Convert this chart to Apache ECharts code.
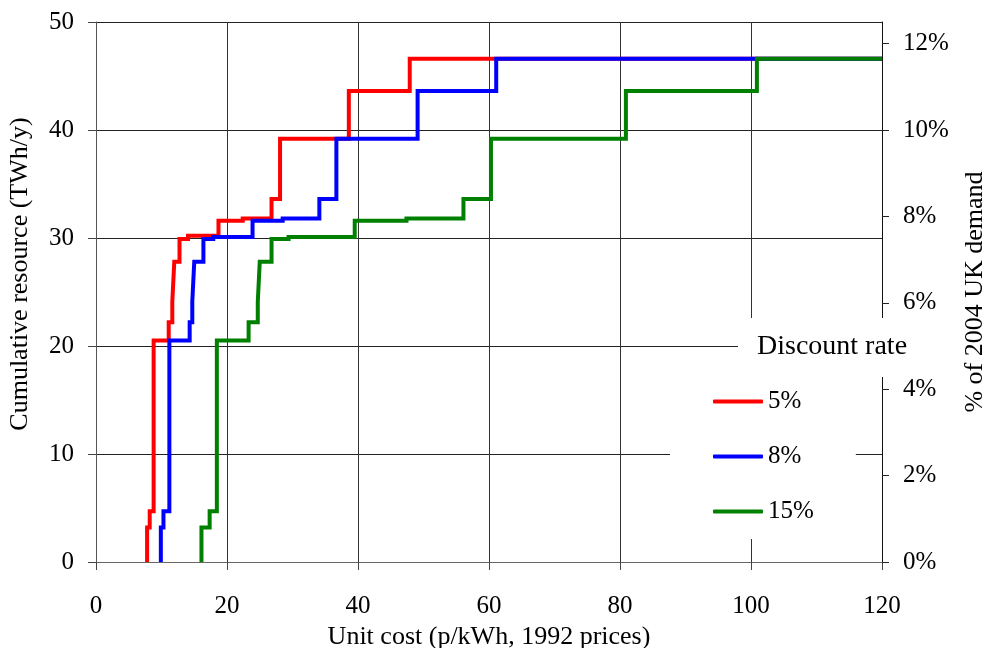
<!DOCTYPE html>
<html>
<head>
<meta charset="utf-8">
<script src="https://cdn.jsdelivr.net/npm/echarts@6/dist/echarts.min.js"></script>
<style>html,body{margin:0;padding:0;background:#fff}#c{width:990px;height:648px}</style>
</head>
<body>
<div id="c"></div>
<script>
// Step curves: at cost[i] the cumulative resource rises to level[i]
const seriesNames = ['5%', '8%', '15%'];
const cost5 = [7.8, 8.2, 8.8, 11.1, 11.65, 11.95, 12.75, 14.05, 18.7, 22.4, 26.8, 28.1, 38.6, 47.9];
const cost8 = [9.9, 10.3, 11.2, 14.3, 14.7, 15.0, 16.4, 17.9, 23.9, 28.5, 34.1, 36.7, 49.1, 61.1];
const cost15 = [16.1, 17.35, 18.45, 23.3, 24.7, 25.0, 26.8, 29.4, 39.5, 47.4, 56.1, 60.3, 80.9, 100.9];
const level5 = [3.2, 4.7, 20.5, 22.2, 24.1, 27.8, 29.9, 30.2, 31.6, 31.8, 33.6, 39.2, 43.6, 46.6];
const level8 = [3.2, 4.7, 20.5, 22.2, 24.1, 27.8, 29.9, 30.1, 31.6, 31.8, 33.6, 39.2, 43.6, 46.6];
const level15 = [3.2, 4.7, 20.5, 22.2, 24.1, 27.8, 29.9, 30.1, 31.6, 31.8, 33.6, 39.2, 43.6, 46.6];
const xMaxCost = 120;
const xTicks = [0, 20, 40, 60, 80, 100, 120];
const yLeftTicks = [0, 10, 20, 30, 40, 50];
const yRightTicks = [0, 2, 4, 6, 8, 10, 12];
const totalDemand = 400; // TWh/y, 100% of 2004 UK demand

function buildSteps(cost, level) {
  const pts = [[cost[0], 0]];
  for (let i = 1; i < cost.length; i++) pts.push([cost[i], level[i - 1]]);
  pts.push([xMaxCost, level[level.length - 1]]);
  return pts;
}

const FONT = "'Liberation Serif', 'Times New Roman', serif";
const colors = ['#ff0000', '#0000ff', '#008000'];
const dataSets = [buildSteps(cost5, level5), buildSteps(cost8, level8), buildSteps(cost15, level15)];

const chart = echarts.init(document.getElementById('c'), null, {renderer: 'canvas'});
const option = {
  animation: false,
  backgroundColor: '#fff',
  grid: {left: 96, right: 108, top: 22, bottom: 86, containLabel: false, outerBoundsMode: 'none'},
  title: {
    text: 'Discount rate',
    left: 738, top: 318,
    padding: [15, 12, 16, 19],
    backgroundColor: '#fff',
    textStyle: {fontFamily: FONT, fontSize: 28, fontWeight: 'normal', color: '#000'}
  },
  legend: {
    orient: 'vertical',
    left: 670, top: 377,
    padding: [12, 42, 15, 43],
    backgroundColor: '#fff',
    itemWidth: 50, itemHeight: 4, itemGap: 30,
    icon: 'roundRect',
    data: seriesNames,
    textStyle: {fontFamily: FONT, fontSize: 25, color: '#000', lineHeight: 25}
  },
  xAxis: [{
    type: 'value', min: 0, max: xMaxCost, interval: 20,
    axisLine: {show: true, onZero: false, lineStyle: {color: '#444', width: 1}},
    axisTick: {show: true, length: 8, lineStyle: {color: '#444'}},
    axisLabel: {margin: 32, fontFamily: FONT, fontSize: 25, color: '#000'},
    splitLine: {show: true, lineStyle: {color: '#333', width: 1}},
    name: 'Unit cost (p/kWh, 1992 prices)',
    nameLocation: 'middle', nameGap: 62,
    nameTextStyle: {fontFamily: FONT, fontSize: 26, color: '#000'}
  }, {
    type: 'value', min: 0, max: xMaxCost, position: 'top',
    axisLine: {show: true, lineStyle: {color: '#666', width: 1}},
    axisTick: {show: false}, axisLabel: {show: false}, splitLine: {show: false}
  }],
  yAxis: [{
    type: 'value', min: 0, max: 50, interval: 10, position: 'left',
    axisLine: {show: true, onZero: false, lineStyle: {color: '#555', width: 1}},
    axisTick: {show: true, length: 8, lineStyle: {color: '#444'}},
    axisLabel: {margin: 22, fontFamily: FONT, fontSize: 25, color: '#000'},
    splitLine: {show: true, lineStyle: {color: '#222', width: 1}}
  }, {
    type: 'value', min: 0, max: 50 / totalDemand * 100, interval: 2, position: 'right',
    axisLine: {show: true, onZero: false, lineStyle: {color: '#111', width: 1}},
    axisTick: {show: true, length: 7, lineStyle: {color: '#222'}},
    axisLabel: {margin: 21, fontFamily: FONT, fontSize: 25, color: '#000', formatter: v => v + '%'},
    splitLine: {show: false}
  }],
  graphic: [{
    type: 'text', x: 20, y: 274, rotation: Math.PI / 2, z: 10,
    style: {text: 'Cumulative resource (TWh/y)', font: '26px ' + FONT, fill: '#000', align: 'center', verticalAlign: 'middle'}
  }, {
    type: 'text', x: 975, y: 292, rotation: Math.PI / 2, z: 10,
    style: {text: '% of 2004 UK demand', font: '26px ' + FONT, fill: '#000', align: 'center', verticalAlign: 'middle'}
  }],
  series: seriesNames.map((n, i) => ({
    name: n, type: 'line', step: 'start',
    xAxisIndex: 0, yAxisIndex: 0,
    data: dataSets[i], showSymbol: false, symbol: 'none',
    color: colors[i],
    lineStyle: {color: colors[i], width: 4, cap: 'butt', join: 'miter'},
    z: 3 + i
  }))
};
chart.setOption(option);
</script>
</body>
</html>
